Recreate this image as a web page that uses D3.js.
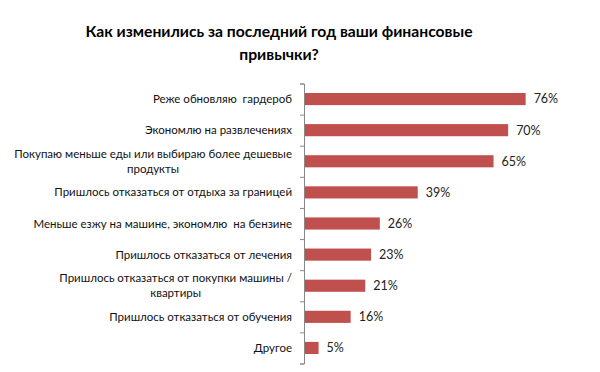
<!DOCTYPE html>
<html><head><meta charset="utf-8">
<script src="https://cdn.jsdelivr.net/npm/d3@7"></script>
<style>
html,body{margin:0;padding:0;background:#fff;}
svg{display:block;}
text{white-space:pre;}
</style></head>
<body>
<script>
const titleLines = ["Как изменились за последний год ваши финансовые", "привычки?"];
const categories = [
  ["Реже обновляю  гардероб"],
  ["Экономлю на развлечениях"],
  ["Покупаю меньше еды или выбираю более дешевые", "продукты"],
  ["Пришлось отказаться от отдыха за границей"],
  ["Меньше езжу на машине, экономлю  на бензине"],
  ["Пришлось отказаться от лечения"],
  ["Пришлось отказаться от покупки машины /", "квартиры"],
  ["Пришлось отказаться от обучения"],
  ["Другое"]
];
const values = [76, 70, 65, 39, 26, 23, 21, 16, 5];
const valueLabels = ["76%", "70%", "65%", "39%", "26%", "23%", "21%", "16%", "5%"];
const xMax = 80;

(function () {
const W = 600, H = 372;
const font = "Lato, 'Open Sans', sans-serif";
const svg = d3.select("body").append("svg").attr("width", W).attr("height", H);

const axisX = 304, plotTop = 83.5, plotBottom = 363.5, labelRight = 292;
const x = d3.scaleLinear().domain([0, xMax]).range([axisX, 537.3]);
const y = d3.scaleBand().domain(d3.range(values.length)).range([plotTop, plotBottom]).paddingInner(0.61).paddingOuter(0.305);

// title
svg.append("text").attr("font-family", font).attr("font-weight", "bold")
  .attr("font-size", 15.7).attr("fill", "#000").attr("text-anchor", "middle")
  .selectAll("tspan").data(titleLines).join("tspan")
  .attr("x", 279).attr("y", (d, i) => 37 + i * 23).text(d => d);

// bars
svg.append("g").selectAll("rect").data(values).join("rect")
  .attr("x", x(0)).attr("y", (d, i) => y(i))
  .attr("width", d => x(d) - x(0)).attr("height", y.bandwidth())
  .attr("fill", "#C0504D");

// value labels
svg.append("g").selectAll("text").data(values).join("text")
  .attr("x", d => x(d) + 8).attr("y", (d, i) => y(i) + y.bandwidth() / 2)
  .attr("dy", "0.35em").attr("font-family", font).attr("font-size", 12.5)
  .attr("fill", "#222").text((d, i) => valueLabels[i]);

// axis
const yAxis = d3.axisLeft(d3.scaleLinear().domain([0, values.length]).range([plotTop, plotBottom]))
  .ticks(values.length).tickSizeInner(4).tickSizeOuter(4).tickFormat("");
const ag = svg.append("g").attr("transform", `translate(${axisX},0)`).call(yAxis);
ag.selectAll("path,line").attr("stroke", "#888").attr("stroke-width", 1);

// category labels
const lg = svg.append("g");
categories.forEach((lines, i) => {
  const cy = y(i) + y.bandwidth() / 2;
  const t = lg.append("text").attr("font-family", font).attr("font-size", 11.5).attr("fill", "#111")
    .attr("text-anchor", "middle");
  const lh = 15;
  const tsp = t.selectAll("tspan").data(lines).join("tspan")
    .attr("y", (d, j) => cy + (j - (lines.length - 1) / 2) * lh).attr("dy", "0.35em").text(d => d);
  let maxW = 0;
  tsp.each(function () { maxW = Math.max(maxW, this.getComputedTextLength()); });
  tsp.attr("x", labelRight - maxW / 2);
});
})();
</script>
</body></html>
